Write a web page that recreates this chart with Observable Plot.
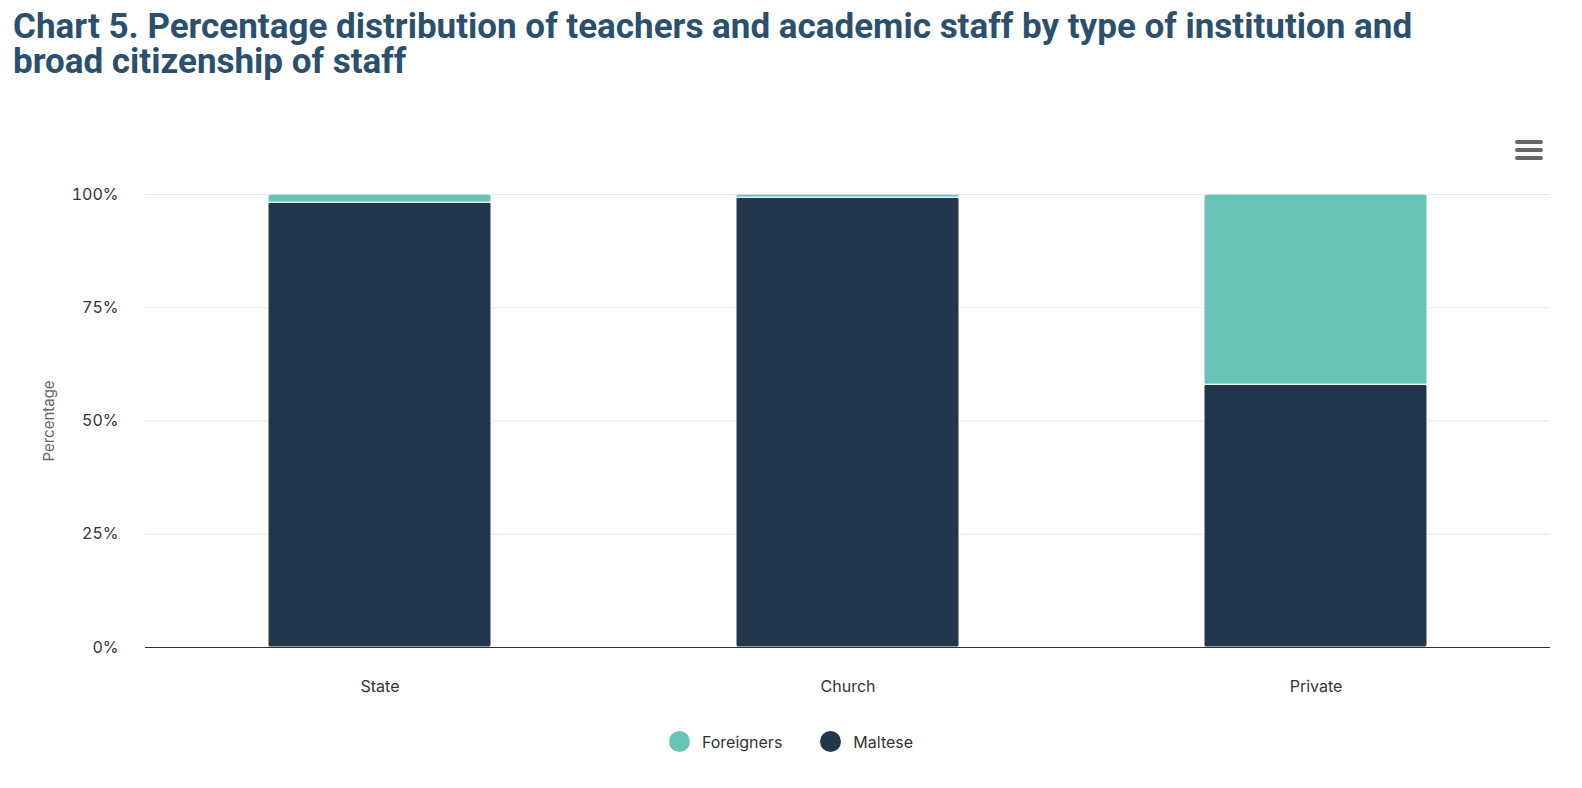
<!DOCTYPE html>
<html>
<head>
<meta charset="utf-8">
<script src="https://cdn.jsdelivr.net/npm/d3@7"></script>
<script src="https://cdn.jsdelivr.net/npm/@observablehq/plot@0.6"></script>
<style>
  body { margin: 0; background: #fff; width: 1582px; height: 788px; position: relative; overflow: hidden; }
  #title { position: absolute; left: 13px; top: 9px; width: 1440px; font-family: Roboto, sans-serif; font-weight: 700; font-size: 35px; line-height: 35px; color: #2b506e; letter-spacing: 0px; z-index: 2; }
  #chart { position: absolute; left: 0; top: 110px; z-index: 1; }
  #legend { position: absolute; top: 731px; left: 0; width: 1582px; display: flex; justify-content: center; font-family: Inter, sans-serif; font-size: 16px; color: #333; z-index: 2; }
  .item { display: flex; align-items: center; margin: 0 19px; }
  .dot { width: 21px; height: 21px; border-radius: 50%; margin-right: 12px; }
  #menu { position: absolute; left: 1515px; top: 140px; z-index: 3; }
  #menu div { width: 28px; height: 4px; background: #666; border-radius: 2px; margin-bottom: 4px; }
</style>
</head>
<body>
<div id="title">Chart 5. Percentage distribution of teachers and academic staff by type of institution and broad citizenship of staff</div>
<div id="chart"></div>
<div id="menu"><div></div><div></div><div></div></div>
<div id="legend"></div>
<script>
const institutions = ["State", "Church", "Private"];
const series = ["Foreigners", "Maltese"];
const colors = ["#6ac4b6", "#22374b"];
const maltese = [98.2, 99.3, 58.0];
const foreigners = [1.8, 0.7, 42.0];
const yTicks = [0, 25, 50, 75, 100];

const data = [];
institutions.forEach((inst, i) => {
  data.push({inst, series: "Maltese", value: maltese[i]});
  data.push({inst, series: "Foreigners", value: foreigners[i]});
});

const chart = Plot.plot({
  width: 1582,
  height: 610,
  marginLeft: 145,
  marginRight: 32,
  marginTop: 84,
  marginBottom: 73,
  style: { fontFamily: "Inter, sans-serif", fontSize: "16px", color: "#333", background: "#fff" },
  x: { domain: institutions, paddingInner: 0.523, paddingOuter: 0.2615, label: null },
  y: { domain: [0, 100], label: null },
  color: { domain: series, range: colors },
  marks: [
    Plot.gridY(yTicks, { stroke: "#e6e6e6", strokeOpacity: 1 }),
    Plot.axisY(yTicks, { tickSize: 0, tickPadding: 27, tickFormat: d => d + "%", label: "Percentage", labelAnchor: "center", labelArrow: "none", labelOffset: 102, fill: "#333" }),
    Plot.axisX({ tickSize: 0, tickPadding: 33, label: null, fill: "#333" }),
    Plot.barY(data, Plot.stackY({
      x: "inst", y: "value", fill: "series",
      order: ["Maltese", "Foreigners"],
      stroke: "#fff", strokeWidth: 1, rx: 2
    })),
    Plot.ruleY([0], { stroke: "#333", strokeWidth: 1 })
  ]
});
chart.querySelectorAll("text").forEach(t => {
  if (t.textContent === "Percentage") { t.setAttribute("fill", "#666"); t.style.fontSize = "15px"; }
});
document.getElementById("chart").appendChild(chart);

const legend = document.getElementById("legend");
series.forEach((s, i) => {
  const item = document.createElement("div");
  item.className = "item";
  item.innerHTML = `<span class="dot" style="background:${colors[i]}"></span><span>${s}</span>`;
  legend.appendChild(item);
});
</script>
</body>
</html>
